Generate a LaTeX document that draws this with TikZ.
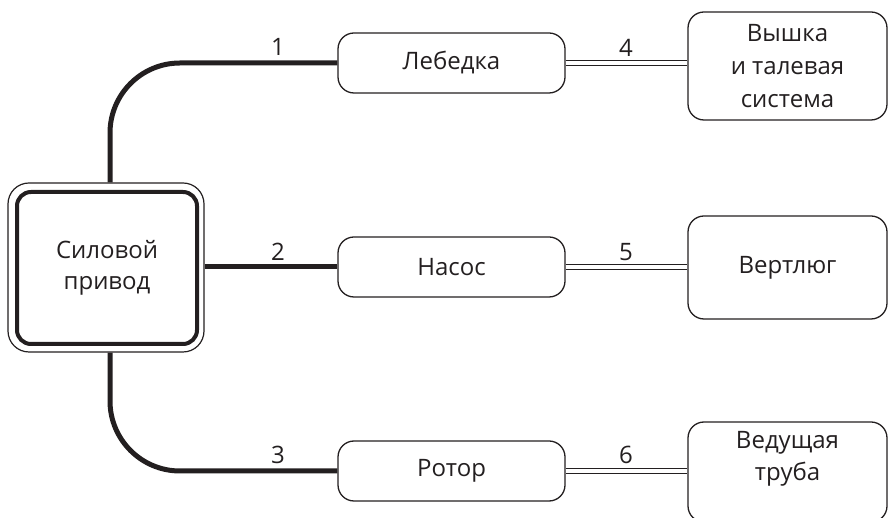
\documentclass[tikz,border=0pt]{standalone}
\usepackage{fontspec}
\setmainfont{Open Sans}
\definecolor{ink}{HTML}{231F20}
\begin{document}
\begin{tikzpicture}[x=1pt,y=1pt,
  every node/.style={text=ink, font=\fontsize{24}{32}\selectfont},
  box/.style={draw=ink, line width=1.3pt, rounded corners=16pt, align=center, inner sep=0pt},
  mid/.style={box, minimum width=227pt, minimum height=60pt},
  right/.style={box, minimum width=199pt},
  conn/.style={draw=ink, line width=5pt, rounded corners=70pt},
  dbl/.style={draw=ink, line width=1.2pt, double=white, double distance=4.5pt},
  num/.style={inner sep=0pt}]
\useasboundingbox (0,0) rectangle (890,518);
% power drive
\node[draw=ink, line width=1.2pt, rounded corners=21pt, minimum width=196pt, minimum height=169pt] (src) at (106,250.5) {};
\node[draw=ink, line width=4pt, rounded corners=14pt, minimum width=180pt, minimum height=152pt, align=center, font=\fontsize{24}{31}\selectfont] (srcin) at (107,250) {Силовой\\привод};
% middle column
\node[mid] (leb) at (451.5,455) {Лебедка};
\node[mid] (nas) at (451.5,251) {Насос};
\node[mid] (rot) at (451.5,47) {Ротор};
% right column
\node[right, minimum height=108pt, font=\fontsize{24}{33}\selectfont] (vys) at (787.5,452) {Вышка\\и талевая\\система};
\node[right, minimum height=103pt] (ver) at (787.5,250.5) {Вертлюг};
\node[right, minimum height=100pt] (ved) at (787.5,46) {};
\node[align=center, inner sep=0pt] (vedt) at (787.5,59) {Ведущая\\труба};
% connectors
\draw[conn] ([xshift=4pt]src.north) |- (leb.west);
\draw[conn] (src.east |- nas.west) -- (nas.west);
\draw[conn] ([xshift=4pt]src.south) |- (rot.west);
\draw[dbl] (leb.east) -- (leb.east -| vys.west);
\draw[dbl] (nas.east) -- (nas.east -| ver.west);
\draw[dbl] (rot.east) -- (rot.east -| ved.west);
% labels
\node[num] (n1) at (278,471) {1};
\node[num] (n2) at (278,266) {2};
\node[num] (n3) at (278,63) {3};
\node[num] (n4) at (626,470) {4};
\node[num] (n5) at (626,266) {5};
\node[num] (n6) at (626,63) {6};
\end{tikzpicture}
\end{document}
